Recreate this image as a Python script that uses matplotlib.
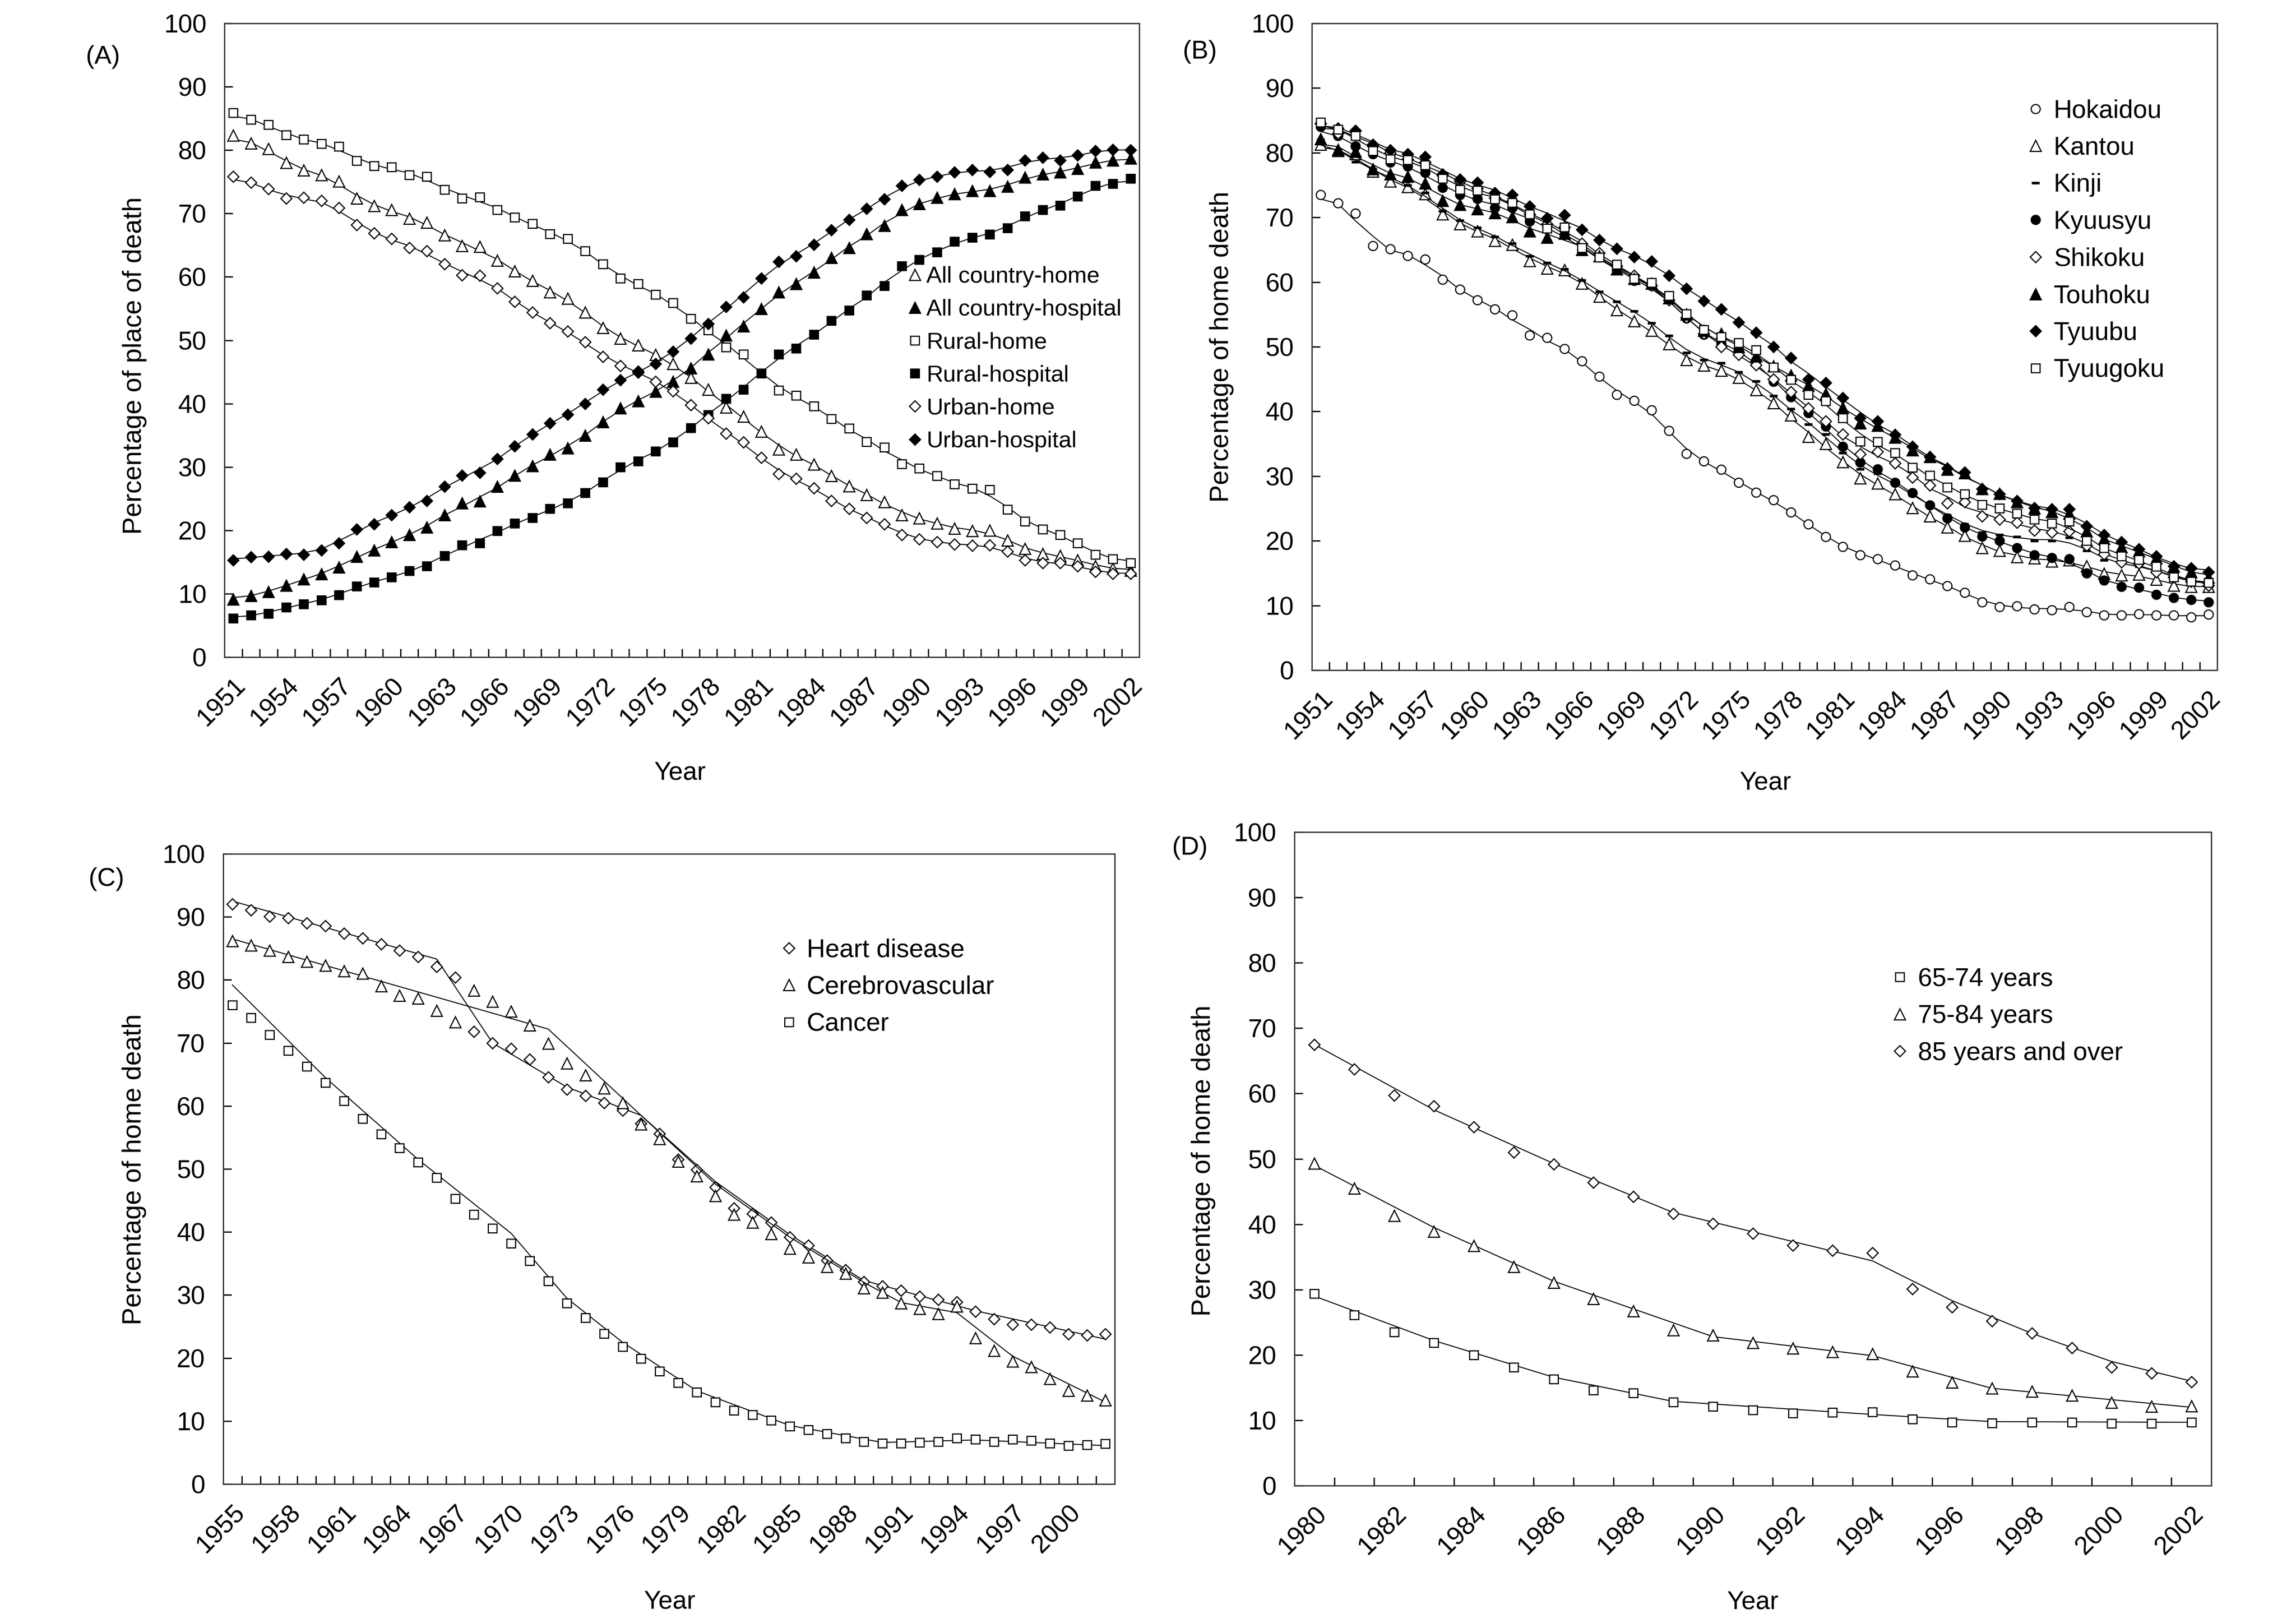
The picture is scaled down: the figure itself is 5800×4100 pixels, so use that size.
import numpy as np
import pandas as pd
import matplotlib
matplotlib.use('Agg')
import matplotlib.pyplot as plt
from matplotlib.ticker import FixedLocator

plt.rcParams['font.family'] = ['Liberation Sans', 'DejaVu Sans']
FS = 15.5

# ---------------- data ----------------
years_ab = list(range(1951, 2003))
years_c = list(range(1955, 2003))
years_d = list(range(1980, 2003))

# (A) place of death
all_home = [82.3, 81.1, 80.2, 78.0, 76.8, 76.1, 75.1, 72.4, 71.2, 70.6,
            69.2, 68.6, 66.6, 64.9, 64.8, 62.6, 60.9, 59.4, 57.6, 56.6,
            54.4, 52.0, 50.3, 49.2, 47.7, 46.3, 44.1, 42.2, 39.4, 38.0,
            35.6, 32.8, 32.0, 30.4, 28.6, 27.0, 25.6, 24.5, 22.4, 21.9,
            21.1, 20.3, 19.9, 20.0, 18.4, 17.1, 16.3, 16.0, 15.3, 14.4,
            14.0, 13.7]
all_hosp = [9.1, 9.7, 10.3, 11.3, 12.3, 13.1, 14.2, 15.9, 16.9, 18.2,
            19.3, 20.5, 22.4, 24.3, 24.6, 26.9, 28.7, 30.2, 32.0, 33.0,
            35.0, 37.1, 39.3, 40.4, 41.9, 43.5, 45.6, 47.8, 50.8, 52.2,
            55.0, 57.6, 58.9, 60.7, 63.0, 64.6, 66.8, 68.1, 70.6, 71.5,
            72.5, 73.1, 73.6, 73.6, 74.3, 75.7, 76.2, 76.5, 77.1, 78.1,
            78.4, 78.7]
rural_home = [85.9, 84.8, 84.0, 82.4, 81.7, 81.0, 80.6, 78.3, 77.5, 77.3,
              76.1, 75.8, 73.8, 72.4, 72.6, 70.6, 69.4, 68.4, 66.8, 66.0,
              64.1, 62.0, 59.8, 58.9, 57.2, 55.9, 53.4, 51.6, 48.9, 47.8,
              44.8, 42.1, 41.3, 39.6, 37.6, 36.1, 34.0, 33.1, 30.5, 29.8,
              28.6, 27.3, 26.6, 26.4, 23.3, 21.4, 20.2, 19.3, 18.0, 16.2,
              15.5, 14.9]
rural_hosp = [6.1, 6.6, 6.9, 7.9, 8.4, 9.0, 9.8, 11.2, 11.8, 12.6,
              13.6, 14.4, 16.0, 17.7, 18.0, 19.9, 21.1, 22.0, 23.4, 24.3,
              25.9, 27.6, 30.0, 30.9, 32.5, 33.9, 36.2, 38.2, 40.8, 42.2,
              44.8, 47.8, 48.7, 50.9, 53.1, 54.7, 57.1, 58.6, 61.7, 62.7,
              63.9, 65.6, 66.2, 66.7, 67.7, 69.6, 70.6, 71.3, 72.7, 74.4,
              74.7, 75.5]
urban_home = [75.8, 74.9, 73.9, 72.4, 72.5, 72.0, 70.9, 68.2, 66.9, 66.0,
              64.6, 64.1, 62.0, 60.3, 60.2, 58.2, 56.1, 54.4, 52.7, 51.4,
              49.7, 47.4, 46.0, 45.1, 43.5, 42.0, 39.8, 37.7, 35.3, 33.9,
              31.5, 28.9, 28.2, 26.7, 24.7, 23.4, 22.0, 21.0, 19.3, 18.6,
              18.2, 17.8, 17.6, 17.7, 16.7, 15.3, 14.9, 14.9, 14.4, 13.5,
              13.2, 13.2]
urban_hosp = [15.3, 15.8, 15.9, 16.3, 16.2, 16.9, 18.0, 20.2, 21.0, 22.4,
              23.7, 24.7, 26.9, 28.7, 29.1, 31.3, 33.3, 35.2, 36.9, 38.3,
              40.0, 42.2, 43.7, 44.9, 46.3, 48.2, 50.3, 52.6, 55.3, 56.8,
              59.8, 62.4, 63.3, 65.1, 67.4, 69.0, 70.8, 72.3, 74.4, 75.3,
              75.8, 76.5, 76.9, 76.6, 76.9, 78.4, 78.8, 78.4, 79.2, 79.9,
              80.1, 80.0]

# (B) home death by region
hokaidou = [73.5, 72.2, 70.6, 65.6, 65.1, 64.1, 63.5, 60.4, 58.9, 57.2,
            55.8, 54.9, 51.8, 51.4, 49.7, 47.8, 45.4, 42.6, 41.7, 40.2,
            37.0, 33.5, 32.3, 31.0, 29.0, 27.5, 26.3, 24.4, 22.6, 20.6,
            19.1, 17.8, 17.2, 16.2, 14.7, 14.1, 13.0, 12.0, 10.5, 9.8,
            9.9, 9.4, 9.3, 9.8, 9.0, 8.5, 8.5, 8.7, 8.5, 8.5,
            8.2, 8.6]
kantou = [81.3, 80.3, 79.8, 77.1, 75.6, 74.7, 73.6, 70.5, 69.0, 67.9,
          66.4, 65.8, 63.3, 62.1, 61.9, 59.8, 57.8, 55.7, 54.0, 52.5,
          50.4, 48.0, 47.1, 46.3, 45.2, 43.3, 41.3, 39.4, 36.1, 35.0,
          32.2, 29.7, 28.9, 27.2, 25.1, 23.8, 22.1, 20.8, 18.9, 18.5,
          17.5, 17.3, 16.8, 17.0, 16.1, 14.9, 14.7, 14.8, 14.0, 13.1,
          12.9, 12.9]
kinji = [82.0, 80.4, 78.6, 77.5, 76.0, 75.0, 73.8, 71.0, 69.5, 68.4,
         67.0, 66.0, 64.0, 63.0, 62.0, 60.3, 58.5, 57.0, 55.5, 53.7,
         51.7, 49.1, 48.0, 47.5, 46.1, 44.7, 42.4, 40.4, 38.0, 36.5,
         33.6, 31.1, 30.4, 28.8, 27.0, 25.5, 24.0, 22.6, 21.3, 20.9,
         20.6, 20.0, 20.0, 20.5, 18.5, 17.0, 16.5, 16.0, 15.5, 14.5,
         13.8, 13.3]
kyuusyu = [84.0, 82.6, 81.0, 79.8, 78.5, 77.9, 76.9, 74.6, 73.5, 72.9,
           71.5, 71.5, 69.4, 68.5, 67.3, 65.0, 63.8, 61.9, 60.2, 59.4,
           57.3, 54.4, 51.9, 50.4, 49.6, 47.9, 44.6, 42.2, 39.8, 37.7,
           34.6, 32.1, 31.1, 29.0, 27.4, 25.5, 23.5, 22.1, 20.7, 20.0,
           18.9, 17.8, 17.4, 17.2, 15.0, 13.9, 12.9, 12.8, 11.7, 11.2,
           10.9, 10.5]
shikoku = [84.5, 83.0, 83.4, 81.0, 80.0, 79.0, 78.5, 76.5, 75.6, 74.5,
           73.0, 72.5, 70.5, 69.0, 68.5, 66.0, 64.5, 62.5, 61.0, 59.5,
           57.2, 54.5, 52.0, 50.0, 48.8, 47.2, 45.0, 43.0, 40.5, 38.5,
           36.5, 33.4, 33.8, 32.0, 29.8, 28.6, 25.8, 26.0, 23.8, 23.3,
           22.8, 21.6, 21.3, 21.5, 19.3, 17.9, 16.7, 16.5, 15.2, 14.4,
           13.7, 13.1]
touhoku = [82.1, 80.5, 80.2, 77.5, 76.7, 76.3, 75.3, 72.6, 72.0, 71.3,
           70.7, 70.1, 67.9, 66.9, 67.5, 65.0, 64.0, 62.0, 60.5, 59.8,
           57.5, 55.0, 52.5, 52.0, 50.0, 48.5, 47.0, 45.6, 44.0, 42.7,
           40.6, 38.2, 37.8, 36.0, 34.0, 33.0, 31.0, 30.5, 28.0, 27.3,
           26.0, 25.0, 24.5, 24.2, 21.5, 20.3, 19.0, 18.4, 17.3, 16.0,
           15.2, 14.3]
tyuubu = [84.5, 83.8, 83.4, 81.3, 80.4, 79.8, 79.4, 76.7, 75.9, 75.4,
          73.8, 73.5, 71.7, 69.9, 70.4, 68.1, 66.5, 65.2, 63.9, 63.2,
          61.0, 59.0, 57.1, 55.8, 53.8, 52.2, 50.0, 48.3, 45.0, 44.4,
          42.1, 39.0, 38.5, 36.4, 34.6, 33.0, 31.2, 30.6, 28.0, 27.2,
          26.2, 25.1, 24.9, 24.9, 22.3, 20.9, 19.8, 18.7, 17.6, 16.1,
          15.8, 15.2]
tyuugoku = [84.7, 83.6, 82.6, 80.3, 79.0, 78.9, 78.1, 76.0, 74.3, 74.2,
            72.8, 72.3, 70.5, 68.3, 68.5, 65.3, 63.8, 62.7, 60.5, 59.9,
            57.9, 55.1, 52.6, 51.5, 50.6, 49.5, 46.8, 44.9, 42.6, 41.6,
            39.0, 35.4, 35.3, 33.6, 31.3, 30.1, 28.3, 27.2, 25.6, 25.0,
            24.2, 23.3, 22.7, 23.0, 20.0, 18.9, 17.6, 17.1, 16.0, 14.4,
            13.7, 13.5]

# (C) home death by cause
heart = [92.0, 91.1, 90.1, 89.8, 89.0, 88.6, 87.4, 86.6, 85.7, 84.7,
         83.7, 82.1, 80.4, 71.8, 70.0, 69.1, 67.4, 64.6, 62.6, 61.6,
         60.5, 59.3, 57.2, 55.6, 51.5, 49.9, 47.1, 43.8, 42.9, 41.5,
         39.2, 37.9, 35.5, 34.0, 32.1, 31.4, 30.7, 29.8, 29.3, 28.9,
         27.4, 26.2, 25.3, 25.3, 24.9, 23.8, 23.6, 23.8]
cerebro = [86.2, 85.5, 84.7, 83.7, 82.9, 82.3, 81.4, 81.0, 79.0, 77.5,
           77.1, 75.1, 73.3, 78.3, 76.6, 75.0, 72.8, 69.9, 66.8, 64.9,
           62.8, 60.5, 57.1, 54.8, 51.2, 48.9, 45.7, 42.8, 41.5, 39.7,
           37.4, 36.0, 34.5, 33.4, 31.1, 30.4, 28.7, 27.8, 27.0, 28.2,
           23.2, 21.2, 19.5, 18.6, 16.7, 14.8, 14.1, 13.3]
cancer = [76.0, 74.0, 71.3, 68.8, 66.3, 63.7, 60.8, 58.0, 55.5, 53.3,
          51.1, 48.6, 45.3, 42.8, 40.6, 38.2, 35.4, 32.2, 28.7, 26.4,
          23.9, 21.8, 19.9, 17.9, 16.1, 14.6, 13.0, 11.7, 11.0, 10.1,
          9.2, 8.6, 8.0, 7.3, 6.7, 6.5, 6.5, 6.6, 6.7, 7.3,
          7.1, 6.7, 7.1, 6.9, 6.5, 6.1, 6.2, 6.4]
# joinpoint trend lines (C)
heart_fit_years = [1955, 1966, 1969, 1973, 1977, 1981, 1985, 1989, 1995, 2002]
heart_fit = [92.5, 83.3, 70.0, 63.0, 58.5, 48.0, 39.6, 32.3, 27.5, 23.0]
cerebro_fit_years = [1955, 1972, 1977, 1981, 1985, 1989, 1991, 1994, 1997, 2002]
cerebro_fit = [86.5, 72.2, 58.5, 47.6, 39.2, 32.0, 28.8, 27.2, 20.3, 13.0]
cancer_fit_years = [1955, 1960, 1965, 1970, 1973, 1976, 1980, 1985, 1990, 1995, 2002]
cancer_fit = [79.2, 64.5, 51.5, 39.8, 29.5, 22.5, 14.8, 9.3, 6.6, 7.0, 6.1]

# (D) home death by age
age_65 = [29.4, 26.1, 23.5, 21.9, 20.0, 18.1, 16.3, 14.6, 14.2, 12.8,
          12.1, 11.6, 11.1, 11.2, 11.3, 10.2, 9.7, 9.6, 9.7, 9.7,
          9.5, 9.5, 9.7]
age_75 = [49.3, 45.5, 41.3, 38.9, 36.7, 33.5, 31.1, 28.6, 26.7, 23.8,
          23.0, 21.9, 21.0, 20.5, 20.2, 17.5, 15.8, 14.9, 14.4, 13.8,
          12.7, 12.1, 12.2]
age_85 = [67.5, 63.7, 59.7, 58.1, 54.9, 51.0, 49.2, 46.4, 44.2, 41.6,
          40.1, 38.6, 36.8, 36.0, 35.6, 30.1, 27.3, 25.2, 23.3, 21.1,
          18.1, 17.2, 15.9]
# joinpoint trend lines (D)
age_65_fit_years = [1980, 1983, 1986, 1989, 1994, 1997, 2002]
age_65_fit = [29.0, 22.2, 16.6, 12.9, 10.9, 9.8, 9.7]
age_75_fit_years = [1980, 1983, 1986, 1990, 1994, 1997, 2002]
age_75_fit = [49.0, 39.5, 31.3, 22.8, 19.9, 14.9, 12.0]
age_85_fit_years = [1980, 1983, 1986, 1989, 1994, 1996, 1998, 2000, 2002]
age_85_fit = [67.5, 57.5, 49.3, 41.8, 34.4, 28.3, 23.3, 19.0, 16.0]


def marker_style(m, filled, size):
    return dict(marker=m, markersize=size, linestyle='none',
                markerfacecolor='black' if filled else 'white',
                markeredgecolor='black', markeredgewidth=0.7)


SQ = ('s', False, 5.5)
SQF = ('s', True, 5.5)
TRI = ('^', False, 6.5)
TRIF = ('^', True, 6.5)
DIA = ('D', False, 4.6)
DIAF = ('D', True, 4.6)
CIR = ('o', False, 5.5)
CIRF = ('o', True, 5.5)
DASH = ('_', True, 5)


def smooth(vals):
    return pd.Series(vals).rolling(3, center=True, min_periods=1).mean().values


def draw(ax, years, vals, style, label, fit_years=None, fit=None):
    if fit is None:
        ax.plot(years, smooth(vals), color='black', lw=0.6)
    else:
        ax.plot(fit_years, fit, color='black', lw=0.6)
    kw = marker_style(*style)
    if style is DASH:
        kw['markeredgewidth'] = 1.6
    h, = ax.plot(years, vals, label=label, **kw)
    return h


def style_axis(ax, years, label_years, ylabel, tag, tag_xy, ylab_xy, xlab_xy):
    ax.set_xlim(years[0] - 0.5, years[-1] + 0.5)
    ax.set_ylim(0, 100)
    ax.set_xticks(label_years)
    ax.set_xticklabels([str(y) for y in label_years], rotation=45,
                       ha='right', rotation_mode='anchor')
    ax.xaxis.set_minor_locator(FixedLocator(np.arange(years[0] + 0.5, years[-1], 1)))
    ax.tick_params(axis='x', which='major', length=0, pad=10, labelsize=FS)
    ax.tick_params(axis='x', which='minor', direction='in', length=5, width=0.8)
    ax.set_yticks(range(0, 101, 10))
    ax.tick_params(axis='y', direction='in', length=5, width=0.8, pad=11, labelsize=FS)
    for s in ax.spines.values():
        s.set_linewidth(0.8)
        s.set_color('#333333')
    ax.set_xlabel('Year', fontsize=FS)
    ax.xaxis.set_label_coords(*xlab_xy)
    ax.set_ylabel(ylabel, fontsize=16)
    ax.yaxis.set_label_coords(*ylab_xy)
    ax.text(tag_xy[0], tag_xy[1], tag, transform=ax.transAxes, fontsize=FS,
            ha='center', va='center')


def add_legend(ax, handles, anchor, spacing, size=FS, textpad=0.4):
    ax.legend(handles=handles, loc='upper left', bbox_to_anchor=anchor,
              frameon=False, fontsize=size, handlelength=0.6, handletextpad=textpad,
              labelspacing=spacing, borderpad=0, borderaxespad=0, numpoints=1)


fig = plt.figure(figsize=(5800 / 300, 4100 / 300), dpi=300)

# ---- (A)
axA = fig.add_axes([0.0978, 0.5951, 0.3984, 0.3905])
hA = [draw(axA, years_ab, all_home, TRI, 'All country-home'),
      draw(axA, years_ab, all_hosp, TRIF, 'All country-hospital'),
      draw(axA, years_ab, rural_home, SQ, 'Rural-home'),
      draw(axA, years_ab, rural_hosp, SQF, 'Rural-hospital'),
      draw(axA, years_ab, urban_home, DIA, 'Urban-home'),
      draw(axA, years_ab, urban_hosp, DIAF, 'Urban-hospital')]
style_axis(axA, years_ab, list(range(1951, 2003, 3)), 'Percentage of place of death',
           '(A)', (-0.133, 0.947), (-0.085, 0.46), (0.498, -0.164))
add_legend(axA, hA, (0.747, 0.617), 0.5, size=14, textpad=0.2)

# ---- (B)
axB = fig.add_axes([0.5714, 0.5871, 0.3943, 0.3985])
hB = [draw(axB, years_ab, hokaidou, CIR, 'Hokaidou'),
      draw(axB, years_ab, kantou, TRI, 'Kantou'),
      draw(axB, years_ab, kinji, DASH, 'Kinji'),
      draw(axB, years_ab, kyuusyu, CIRF, 'Kyuusyu'),
      draw(axB, years_ab, shikoku, DIA, 'Shikoku'),
      draw(axB, years_ab, touhoku, TRIF, 'Touhoku'),
      draw(axB, years_ab, tyuubu, DIAF, 'Tyuubu'),
      draw(axB, years_ab, tyuugoku, SQ, 'Tyuugoku')]
style_axis(axB, years_ab, list(range(1951, 2003, 3)), 'Percentage of home death',
           '(B)', (-0.124, 0.956), (-0.086, 0.5), (0.501, -0.156))
add_legend(axB, hB, (0.791, 0.883), 0.52)

# ---- (C)
axC = fig.add_axes([0.0972, 0.0856, 0.3883, 0.3883])
hC = [draw(axC, years_c, heart, DIA, 'Heart disease', heart_fit_years, heart_fit),
      draw(axC, years_c, cerebro, TRI, 'Cerebrovascular', cerebro_fit_years, cerebro_fit),
      draw(axC, years_c, cancer, SQ, 'Cancer', cancer_fit_years, cancer_fit)]
style_axis(axC, years_c, list(range(1955, 2001, 3)), 'Percentage of home death',
           '(C)', (-0.131, 0.96), (-0.086, 0.499), (0.501, -0.168))
add_legend(axC, hC, (0.626, 0.866), 0.52)

# ---- (D)
axD = fig.add_axes([0.5638, 0.0846, 0.3993, 0.4027])
hD = [draw(axD, years_d, age_65, SQ, '65-74 years', age_65_fit_years, age_65_fit),
      draw(axD, years_d, age_75, TRI, '75-84 years', age_75_fit_years, age_75_fit),
      draw(axD, years_d, age_85, DIA, '85 years and over', age_85_fit_years, age_85_fit)]
style_axis(axD, years_d, list(range(1980, 2003, 2)), 'Percentage of home death',
           '(D)', (-0.114, 0.976), (-0.086, 0.497), (0.5, -0.16))
add_legend(axD, hD, (0.652, 0.793), 0.52)

fig.savefig('out.png', dpi=300, facecolor='white')
